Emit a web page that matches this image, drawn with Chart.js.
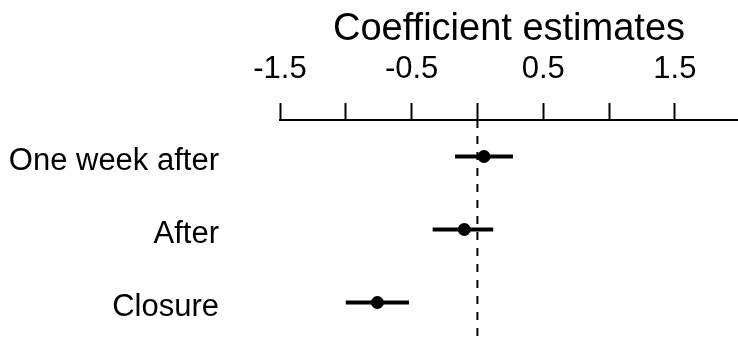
<!DOCTYPE html>
<html>
<head>
<meta charset="utf-8">
<script src="https://cdn.jsdelivr.net/npm/chart.js@4.4.0/dist/chart.umd.min.js"></script>
<style>
  body { margin: 0; background: #fff; }
  #wrap { width: 738px; height: 339px; }
</style>
</head>
<body>
<div id="wrap"><canvas id="myChart"></canvas></div>
<script>
const categories = ['One week after', 'After', 'Closure'];
const estimates = [0.05, -0.10, -0.76];
const lower = [-0.17, -0.34, -1.00];
const upper = [0.27, 0.12, -0.52];
const xTicks = [-1.5, -1, -0.5, 0, 0.5, 1, 1.5];

// dashed reference line at zero
const zeroLine = {
    id: 'zeroLine',
    beforeDatasetsDraw(chart) {
        const ctx = chart.ctx;
        const x = chart.scales.x.getPixelForValue(0);
        ctx.save();
        ctx.strokeStyle = 'black';
        ctx.lineWidth = 2;
        ctx.setLineDash([8, 8]);
        ctx.beginPath();
        ctx.moveTo(x, chart.chartArea.top);
        ctx.lineTo(x, chart.chartArea.bottom);
        ctx.stroke();
        ctx.restore();
    }
};

const intervals = categories.map((c, i) => ({
    data: [{ x: lower[i], y: c }, { x: upper[i], y: c }],
    showLine: true,
    borderColor: 'black',
    borderWidth: 4,
    pointRadius: 0
}));

const points = {
    data: categories.map((c, i) => ({ x: estimates[i], y: c })),
    backgroundColor: 'black',
    borderWidth: 0,
    pointRadius: 6.5
};

const ctx = document.getElementById('myChart').getContext('2d');
const myChart = new Chart(ctx, {
    type: 'scatter',
    data: { datasets: [...intervals, points] },
    options: {
        responsive: true,
        maintainAspectRatio: false,
        animation: false,
        layout: { padding: 0, autoPadding: false },
        plugins: {
            legend: { display: false },
            tooltip: { enabled: false }
        },
        scales: {
            x: {
                type: 'linear',
                position: 'top',
                min: -1.5,
                max: 1.98,
                afterBuildTicks: (s) => { s.ticks = xTicks.map(v => ({ value: v })); },
                afterFit: (s) => {
                    s.height = 120;
                    s.paddingLeft = 0;
                    s.paddingRight = 0;
                },
                title: {
                    display: true,
                    text: 'Coefficient estimates',
                    color: 'black',
                    font: { family: 'Liberation Sans', size: 38 },
                    padding: { top: 7, bottom: 0 }
                },
                ticks: {
                    color: 'black',
                    font: { family: 'Liberation Sans', size: 31 },
                    padding: 15,
                    autoSkip: false,
                    includeBounds: false,
                    maxRotation: 0,
                    callback: (v) => Number.isInteger(v) ? '' : v.toFixed(1)
                },
                grid: {
                    drawOnChartArea: false,
                    tickLength: 17,
                    tickWidth: 2,
                    tickColor: 'black'
                },
                border: { display: true, color: 'black', width: 2 }
            },
            y: {
                type: 'category',
                labels: categories,
                offset: true,
                afterFit: (s) => {
                    s.width = 280;
                    s.paddingTop = 0;
                    s.paddingBottom = 0;
                },
                ticks: {
                    color: 'black',
                    font: { family: 'Liberation Sans', size: 31 },
                    padding: 61,
                    labelOffset: 5
                },
                grid: { display: false, drawTicks: false },
                border: { display: false }
            }
        }
    },
    plugins: [zeroLine]
});
</script>
</body>
</html>
